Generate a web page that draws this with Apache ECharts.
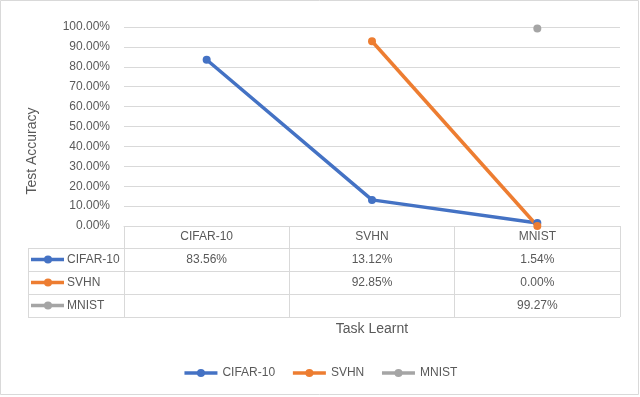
<!DOCTYPE html>
<html>
<head>
<meta charset="utf-8">
<script src="https://cdn.jsdelivr.net/npm/echarts@6/dist/echarts.min.js"></script>
<style>
  html, body { margin: 0; padding: 0; background: #fff; }
  #chart { width: 640px; height: 397px; }
</style>
</head>
<body>
<div id="chart"></div>
<script>
const categories = ['CIFAR-10', 'SVHN', 'MNIST'];
const cifarAcc = [0.8356, 0.1312, 0.0154];
const svhnAcc = [null, 0.9285, 0.0];
const mnistAcc = [null, null, 0.9927];

const seriesList = [
  { name: 'CIFAR-10', data: cifarAcc, color: '#4472C4' },
  { name: 'SVHN', data: svhnAcc, color: '#ED7D31' },
  { name: 'MNIST', data: mnistAcc, color: '#A5A5A5' },
];

const font = 'Liberation Sans, Arial, sans-serif';
const textColor = '#595959';
const lineColor = '#D9D9D9';
const headerH = 22;
const rowH = 23;

const chart = echarts.init(document.getElementById('chart'));

chart.setOption({
  backgroundColor: '#fff',
  animation: false,
  textStyle: { fontFamily: font },
  grid: { left: 124, right: 20, top: 27, bottom: 171 },
  legend: {
    top: 362,
    left: 'center',
    itemWidth: 33,
    itemHeight: 10,
    itemGap: 16,
    lineStyle: { width: 3.5 },
    textStyle: { color: textColor, fontSize: 12, fontFamily: font },
    data: seriesList.map((s) => s.name),
  },
  xAxis: {
    type: 'category',
    data: categories,
    boundaryGap: true,
    name: 'Task Learnt',
    nameLocation: 'middle',
    nameGap: 96,
    nameTextStyle: { color: textColor, fontSize: 14 },
    axisLine: { lineStyle: { color: lineColor } },
    axisTick: { show: true, interval: 0, length: headerH + rowH * 3, lineStyle: { color: lineColor } },
    axisLabel: { color: textColor, fontSize: 12, margin: 5, interval: 0 },
  },
  yAxis: {
    type: 'value',
    min: 0,
    max: 1,
    interval: 0.1,
    axisLine: { show: false },
    axisTick: { show: false },
    splitLine: { lineStyle: { color: lineColor } },
    axisLabel: {
      color: textColor,
      fontSize: 12,
      margin: 14,
      formatter: (v) => (v * 100).toFixed(2) + '%',
    },
  },
  series: seriesList.map((s) => ({
    name: s.name,
    type: 'line',
    data: s.data,
    symbol: 'circle',
    symbolSize: 8,
    color: s.color,
    lineStyle: { width: 3.5, color: s.color },
    itemStyle: { color: s.color },
  })),
});

// data table under the plot
const zeroY = chart.convertToPixel({ yAxisIndex: 0 }, 0);
const rightX = 620;
const tableLeft = 28;
const rowTop = zeroY + headerH;
const els = [];

// outer chart border
els.push({ type: 'rect', shape: { x: 0.5, y: 0.5, width: 638, height: 394 }, style: { fill: null, stroke: lineColor, lineWidth: 1 }, silent: true });

for (let i = 0; i <= seriesList.length; i++) {
  const y = Math.round(rowTop + i * rowH) + 0.5;
  els.push({ type: 'line', shape: { x1: tableLeft, y1: y, x2: rightX, y2: y }, style: { stroke: lineColor, lineWidth: 1 }, silent: true });
}
els.push({ type: 'line', shape: { x1: tableLeft + 0.5, y1: rowTop, x2: tableLeft + 0.5, y2: rowTop + rowH * seriesList.length }, style: { stroke: lineColor, lineWidth: 1 }, silent: true });

seriesList.forEach((s, r) => {
  const cy = rowTop + r * rowH + rowH / 2;
  els.push({ type: 'line', shape: { x1: tableLeft + 3, y1: cy, x2: tableLeft + 36, y2: cy }, style: { stroke: s.color, lineWidth: 3.5 }, silent: true });
  els.push({ type: 'circle', shape: { cx: tableLeft + 20, cy: cy, r: 4 }, style: { fill: s.color }, silent: true });
  els.push({ type: 'text', x: tableLeft + 39, y: cy, style: { text: s.name, fill: textColor, font: '12px ' + font, align: 'left', verticalAlign: 'middle' }, silent: true });
  s.data.forEach((v, c) => {
    if (v == null) return;
    const cx = chart.convertToPixel({ xAxisIndex: 0 }, c);
    els.push({ type: 'text', x: cx, y: cy, style: { text: (v * 100).toFixed(2) + '%', fill: textColor, font: '12px ' + font, align: 'center', verticalAlign: 'middle' }, silent: true });
  });
});

// y axis title
els.push({ type: 'text', x: 32, y: 151, rotation: Math.PI / 2, style: { text: 'Test Accuracy', fill: textColor, font: '14px ' + font, align: 'center', verticalAlign: 'middle' }, silent: true });

chart.setOption({ graphic: els });
</script>
</body>
</html>
